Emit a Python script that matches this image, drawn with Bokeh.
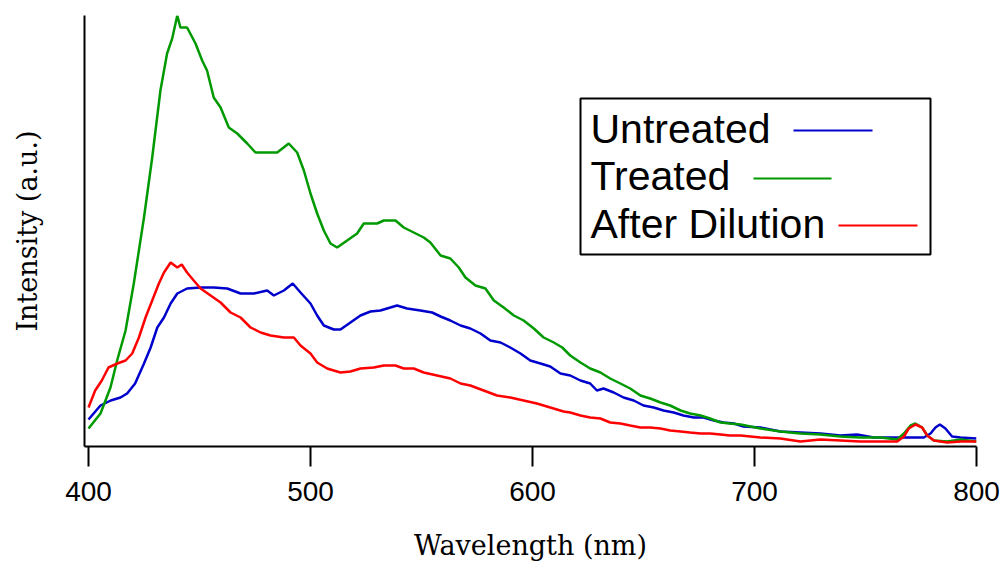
from bokeh.plotting import figure
from bokeh.models import Range1d, FixedTicker, Label, Arrow, BoxAnnotation
from bokeh.embed import file_html
from bokeh.resources import INLINE

# ---------------- data ----------------
tick_values = [400, 500, 600, 700, 800]
series_names = ["Untreated", "Treated", "After Dilution"]

wl_untreated = [400, 405.4, 410, 414.4, 417.4, 421, 425, 428, 431, 434, 437, 440, 444.4, 450.5, 456.4,
                462.5, 468.5, 474.5, 480.5, 483.5, 488, 492, 495.5, 500, 503, 506, 510.5, 513.5, 518,
                522.5, 527, 531.5, 536, 539, 543.5, 549.5, 554.8, 558.6, 563, 567.6, 572, 576.6, 581,
                585.6, 590, 594.6, 599, 603.6, 608, 612.6, 617, 621.6, 626, 629, 632, 636.6, 641, 645.6,
                650, 654.6, 659, 663.6, 668, 672.7, 677, 681.7, 686, 690.7, 695, 702.7, 711.7, 720.7,
                729.7, 738.7, 746.2, 753.7, 761.3, 768.8, 776.3, 779.3, 781.5, 783.5, 786, 789, 792.8, 800]
int_untreated = [27, 41, 46, 49, 53, 63, 83, 99, 119, 129, 143, 153, 158, 159, 159,
                 158, 153, 153, 156, 151, 156, 163, 154, 143, 131, 121, 117, 117, 124,
                 131, 135, 136, 139, 141, 138, 136, 134, 130, 126, 121, 118, 113, 106,
                 104, 99, 93, 86, 83, 80, 73, 71, 66, 63, 56, 58, 54, 49, 46,
                 41, 39, 36, 34, 31, 29, 29, 26, 24, 23, 20, 19, 15, 14,
                 13, 11, 12, 9, 9, 9, 9, 13, 19, 22, 18, 10, 9, 8]

wl_treated = [400, 405.4, 409.9, 412.9, 416.7, 420.4, 425, 428.7, 432.4, 435.4, 437.7, 440, 441.4, 444.4,
              448.2, 451.2, 453.4, 456.4, 459.5, 463.2, 467, 471.5, 475.2, 480.5, 485, 490.2, 494, 497,
              500, 503, 506, 509, 512, 516.5, 521, 524, 530, 533, 538.3, 542, 546.5, 551, 554, 558.6,
              563, 566.8, 569.8, 574.3, 578.8, 582.6, 587, 591.6, 596, 600.6, 605, 609.6, 613.4, 617,
              621.6, 626, 630.6, 635, 639.6, 644, 648.6, 653, 657.7, 662, 666.7, 671, 675.7, 680, 684.7,
              689, 693.7, 702.7, 711.7, 720.7, 729.7, 738.7, 747.7, 756.8, 764.3, 767.3, 770.3, 772.5,
              775.5, 777.8, 780.8, 786.8, 792.8, 800]
int_treated = [18, 33, 59, 86, 116, 163, 229, 289, 356, 393, 408, 431, 419, 419,
               403, 386, 376, 349, 339, 319, 313, 303, 294, 294, 294, 303, 294, 276,
               253, 233, 216, 203, 199, 206, 213, 223, 223, 226, 226, 219, 214, 209, 204, 191,
               188, 179, 169, 161, 158, 146, 139, 131, 126, 118, 109, 104, 99, 91,
               84, 78, 74, 68, 63, 58, 51, 48, 44, 41, 36, 33, 31, 28, 24,
               23, 22, 18, 15, 13, 12, 10, 9, 9, 7, 13, 21, 23,
               19, 11, 6, 5, 7, 5]

wl_diluted = [400, 403, 406, 409, 413, 416.7, 419.7, 422.7, 425.7, 428.7, 431.7, 434, 437, 440, 442,
              444.4, 447.4, 450.5, 455, 459.5, 464, 468.5, 473, 477.5, 482, 488, 492.5, 495.5, 500,
              503, 507.5, 513.5, 518, 522.5, 528.5, 533, 538.3, 542, 546.5, 551, 557, 563, 567.6, 572,
              578, 584, 590, 596, 602, 608, 614, 617, 621.6, 626, 630.6, 635, 639.6, 644, 648.6, 653,
              657.7, 662, 666.7, 671, 675.7, 680, 684.7, 689, 693.7, 702.7, 711.7, 720.7, 729.7, 738.7,
              747.7, 756.8, 764.3, 767.3, 769.5, 772.5, 775.5, 777.8, 780.8, 786.8, 792.8, 800]
int_diluted = [39, 56, 66, 79, 83, 86, 93, 109, 129, 146, 163, 174, 184, 179, 182,
               174, 166, 158, 151, 144, 134, 129, 119, 114, 111, 109, 109, 101, 93,
               84, 78, 74, 75, 78, 79, 81, 81, 78, 78, 74, 71, 68, 63, 61,
               56, 51, 49, 46, 43, 39, 35, 34, 31, 29, 28, 24, 23, 21, 19, 19,
               18, 16, 15, 14, 13, 13, 12, 11, 11, 9, 8, 5, 7, 6,
               5, 5, 5, 10, 18, 22, 19, 11, 6, 4, 5, 5]

colors = ["#0000cc", "#009a00", "#ff0000"]

# ---------------- figure ----------------
p = figure(width=1000, height=565, output_backend="svg", toolbar_location=None,
           x_range=Range1d(398.2, 800), y_range=Range1d(0, 431),
           min_border_left=84, min_border_right=24, min_border_top=15, min_border_bottom=119)
p.outline_line_color = None
p.xgrid.visible = False
p.ygrid.visible = False
p.background_fill_color = "white"
p.border_fill_color = "white"

for wl, inten, c in [(wl_untreated, int_untreated, colors[0]),
                     (wl_treated, int_treated, colors[1]),
                     (wl_diluted, int_diluted, colors[2])]:
    p.line(wl, inten, line_color=c, line_width=2.5)

# x axis
xa = p.xaxis[0]
xa.ticker = FixedTicker(ticks=tick_values)
xa.axis_line_width = 2
xa.axis_line_color = "black"
xa.major_tick_line_width = 2
xa.major_tick_line_color = "black"
xa.major_tick_in = 0
xa.major_tick_out = 20
xa.minor_tick_line_color = None
xa.major_label_text_font = "Liberation Sans"
xa.major_label_text_font_size = "28px"
xa.major_label_text_color = "black"
xa.major_label_standoff = 15
xa.axis_label = "Wavelength (nm)"
xa.axis_label_text_font = "DejaVu Serif"
xa.axis_label_text_font_size = "27px"
xa.axis_label_text_font_style = "normal"
xa.axis_label_text_color = "black"
xa.axis_label_standoff = 26

# y axis
ya = p.yaxis[0]
ya.ticker = FixedTicker(ticks=[])
ya.axis_line_width = 2
ya.axis_line_color = "black"
ya.major_tick_line_color = None
ya.minor_tick_line_color = None
ya.major_label_text_font_size = "0px"
ya.axis_label = "Intensity (a.u.)"
ya.axis_label_text_font = "DejaVu Serif"
ya.axis_label_text_font_size = "27px"
ya.axis_label_text_font_style = "normal"
ya.axis_label_text_color = "black"
ya.axis_label_standoff = 42

# ---------------- legend (text first, then line sample) ----------------
box = BoxAnnotation(left=496, right=846, top=348, bottom=192,
                    left_units="screen", right_units="screen", top_units="screen", bottom_units="screen",
                    fill_color="white", fill_alpha=1.0, line_color="black", line_alpha=1.0, line_width=2)
p.add_layout(box)

label_y = [318, 271, 223]
line_x = [(709, 788), (669, 747), (754, 833)]
line_y = [316, 268, 221]
for name, c, ly, (x0, x1), sy in zip(series_names, colors, label_y, line_x, line_y):
    p.add_layout(Label(x=506, y=ly, x_units="screen", y_units="screen", text=name,
                       text_font="Liberation Sans", text_font_size="41px",
                       text_color="black", text_baseline="alphabetic", text_align="left"))
    p.add_layout(Arrow(end=None, x_start=x0, y_start=sy, x_end=x1, y_end=sy,
                       start_units="screen", end_units="screen", line_color=c, line_width=2))

open("out.html", "w").write(file_html(p, INLINE))
